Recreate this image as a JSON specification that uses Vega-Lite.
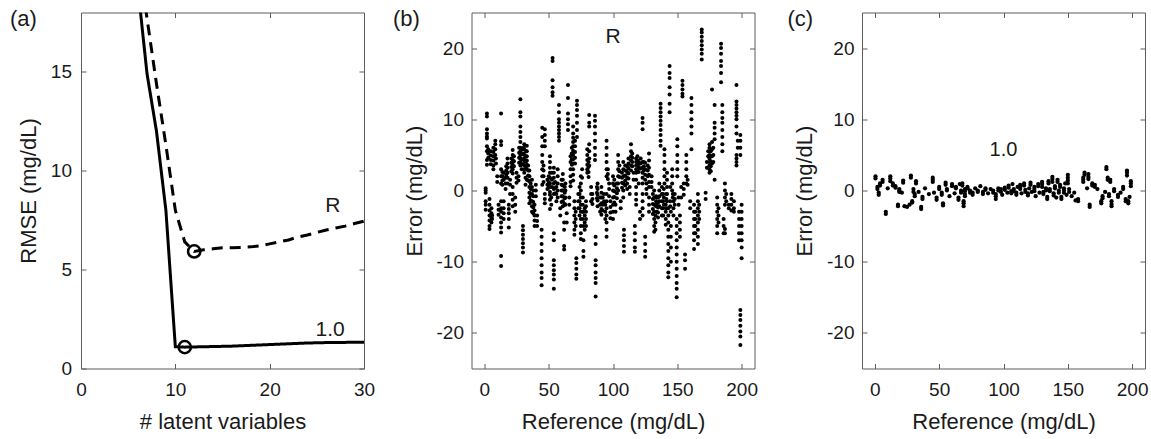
{
"$schema":"https://vega.github.io/schema/vega-lite/v6.json",
"padding":{"left":9,"top":7.5,"right":5,"bottom":5},
"bounds":"flush",
"spacing":107.5,
"config":{
 "font":"Liberation Sans",
 "view":{"stroke":"#5c5c5c","strokeWidth":1},
 "axis":{"grid":false,"domain":false,"labelFlush":false,"tickSize":-5,"tickColor":"#5c5c5c","tickWidth":1,"labelFontSize":19,"titleFontSize":22,"titleFontWeight":"normal","labelColor":"#1a1a1a","titleColor":"#1a1a1a","labelFont":"Liberation Sans","titleFont":"Liberation Sans","labelExpr":"toString(datum.value)"},
 "title":{"font":"Liberation Sans","fontSize":22,"fontWeight":"normal","color":"#1a1a1a","anchor":"start","frame":"group","offset":-13,"baseline":"alphabetic","dy":6}
},
"datasets":{
 "rmse":[
  {"lv":5,"rmse":24,"series":"1.0"},{"lv":6,"rmse":19.4,"series":"1.0"},{"lv":7,"rmse":14.9,"series":"1.0"},{"lv":8,"rmse":12.0,"series":"1.0"},{"lv":9,"rmse":8.0,"series":"1.0"},{"lv":10,"rmse":1.1,"series":"1.0"},{"lv":11,"rmse":1.08,"series":"1.0"},{"lv":12,"rmse":1.09,"series":"1.0"},{"lv":13,"rmse":1.1,"series":"1.0"},{"lv":14,"rmse":1.11,"series":"1.0"},{"lv":15,"rmse":1.12,"series":"1.0"},{"lv":16,"rmse":1.13,"series":"1.0"},{"lv":17,"rmse":1.15,"series":"1.0"},{"lv":18,"rmse":1.17,"series":"1.0"},{"lv":19,"rmse":1.19,"series":"1.0"},{"lv":20,"rmse":1.21,"series":"1.0"},{"lv":21,"rmse":1.23,"series":"1.0"},{"lv":22,"rmse":1.25,"series":"1.0"},{"lv":23,"rmse":1.27,"series":"1.0"},{"lv":24,"rmse":1.29,"series":"1.0"},{"lv":25,"rmse":1.3,"series":"1.0"},{"lv":26,"rmse":1.31,"series":"1.0"},{"lv":27,"rmse":1.32,"series":"1.0"},{"lv":28,"rmse":1.32,"series":"1.0"},{"lv":29,"rmse":1.33,"series":"1.0"},{"lv":30,"rmse":1.33,"series":"1.0"},
  {"lv":6,"rmse":21.0,"series":"R"},{"lv":7,"rmse":17.7,"series":"R"},{"lv":8,"rmse":14.4,"series":"R"},{"lv":9,"rmse":11.3,"series":"R"},{"lv":10,"rmse":8.0,"series":"R"},{"lv":11,"rmse":6.4,"series":"R"},{"lv":12,"rmse":5.92,"series":"R"},{"lv":13,"rmse":6.0,"series":"R"},{"lv":14,"rmse":6.05,"series":"R"},{"lv":15,"rmse":6.1,"series":"R"},{"lv":16,"rmse":6.1,"series":"R"},{"lv":17,"rmse":6.12,"series":"R"},{"lv":18,"rmse":6.15,"series":"R"},{"lv":19,"rmse":6.2,"series":"R"},{"lv":20,"rmse":6.3,"series":"R"},{"lv":21,"rmse":6.4,"series":"R"},{"lv":22,"rmse":6.5,"series":"R"},{"lv":23,"rmse":6.65,"series":"R"},{"lv":24,"rmse":6.75,"series":"R"},{"lv":25,"rmse":6.88,"series":"R"},{"lv":26,"rmse":7.0,"series":"R"},{"lv":27,"rmse":7.1,"series":"R"},{"lv":28,"rmse":7.2,"series":"R"},{"lv":29,"rmse":7.33,"series":"R"},{"lv":30,"rmse":7.45,"series":"R"}
 ],
 "opt":[{"lv":11,"rmse":1.08},{"lv":12,"rmse":5.92}],
 "labA":[{"lv":26.7,"rmse":8.2,"label":"R"},{"lv":26.4,"rmse":1.97,"label":"1.0"}],
 "labB":[{"ref":100,"err":21.6,"label":"R"}],
 "labC":[{"ref":100,"err":5.7,"label":"1.0"}],
 "errR":[
{"ref":1,"err":0.3},{"ref":1,"err":0},{"ref":1,"err":-0.3},{"ref":1,"err":-1.5},{"ref":1,"err":-2.0},{"ref":1,"err":-2.7},
{"ref":2,"err":10.8},{"ref":2,"err":10.4},{"ref":2,"err":8.6},{"ref":2,"err":8.0},{"ref":2,"err":7.6},{"ref":2,"err":7.3},{"ref":2,"err":6.2},{"ref":2,"err":5.5},{"ref":2,"err":4.3},{"ref":2,"err":3.6},
{"ref":3,"err":5.8},{"ref":3,"err":5.2},{"ref":3,"err":4.6},
{"ref":4,"err":-1.2},{"ref":4,"err":-2.0},{"ref":4,"err":-2.8},{"ref":4,"err":-3.5},{"ref":4,"err":-4.2},{"ref":4,"err":-5.0},{"ref":4,"err":-5.4},
{"ref":5,"err":5.5},{"ref":5,"err":4.9},{"ref":5,"err":4.3},{"ref":5,"err":3.7},
{"ref":5.5,"err":-2.5},{"ref":5.5,"err":-3.2},{"ref":5.5,"err":-3.8},{"ref":5.5,"err":-4.5},
{"ref":6,"err":-3.5},{"ref":6,"err":-4.0},
{"ref":7,"err":6.0},{"ref":7,"err":5.4},{"ref":7,"err":4.8},{"ref":7,"err":4.2},{"ref":7,"err":3.5},{"ref":7,"err":3.0},
{"ref":8.5,"err":7.0},{"ref":8.5,"err":6.5},{"ref":8.5,"err":5.8},{"ref":8.5,"err":5.0},
{"ref":9,"err":4.5},{"ref":9,"err":3.8},
{"ref":10,"err":2.0},{"ref":10,"err":1.2},
{"ref":11,"err":-2.0},{"ref":11,"err":-2.7},{"ref":11,"err":-3.4},
{"ref":13,"err":10.8},{"ref":13,"err":6.9},{"ref":13,"err":6.4},{"ref":13,"err":3.0},{"ref":13,"err":2.0},{"ref":13,"err":1.0},{"ref":13,"err":-1.5},{"ref":13,"err":-2.5},{"ref":13,"err":-3.0},{"ref":13,"err":-3.8},{"ref":13,"err":-4.5},{"ref":13,"err":-5.2},{"ref":13,"err":-5.9},{"ref":13,"err":-9.2},{"ref":13,"err":-10.6},
{"ref":14,"err":2.6},{"ref":14,"err":2.0},{"ref":14,"err":1.4},{"ref":14,"err":0.8},
{"ref":15,"err":2.5},{"ref":15,"err":1.5},{"ref":15,"err":-1.5},{"ref":15,"err":-2.5},{"ref":15,"err":-3.2},{"ref":15,"err":-4.0},
{"ref":16.5,"err":1.8},{"ref":16.5,"err":1.0},{"ref":16.5,"err":0.2},
{"ref":17,"err":3.4},{"ref":17,"err":2.8},{"ref":17,"err":2.2},
{"ref":18,"err":4.5},{"ref":18,"err":3.8},{"ref":18,"err":3.2},{"ref":18,"err":2.5},{"ref":18,"err":1.8},{"ref":18,"err":1.0},
{"ref":19,"err":-2.0},{"ref":19,"err":-2.6},{"ref":19,"err":-3.2},{"ref":19,"err":-4.0},{"ref":19,"err":-5.2},
{"ref":20,"err":1.5},{"ref":20,"err":0.8},{"ref":20,"err":-0.5},
{"ref":21,"err":4.5},{"ref":21,"err":3.9},{"ref":21,"err":3.3},{"ref":21,"err":2.7},
{"ref":22,"err":5.7},{"ref":22,"err":5.0},{"ref":22,"err":4.3},{"ref":22,"err":3.6},{"ref":22,"err":3.0},{"ref":22,"err":2.4},{"ref":22,"err":0.5},{"ref":22,"err":-0.5},{"ref":22,"err":-1.3},{"ref":22,"err":-2.2},
{"ref":23,"err":4.8},{"ref":23,"err":4.1},{"ref":23,"err":3.4},
{"ref":24,"err":-1.0},{"ref":24,"err":-2.0},{"ref":24,"err":-3.0},
{"ref":25,"err":2.5},{"ref":25,"err":1.8},{"ref":25,"err":1.1},
{"ref":26.5,"err":2.0},{"ref":26.5,"err":1.4},
{"ref":27,"err":6.0},{"ref":27,"err":5.3},{"ref":27,"err":4.6},{"ref":27,"err":3.9},
{"ref":28,"err":12.8},{"ref":28,"err":11.0},{"ref":28,"err":10.4},{"ref":28,"err":9.0},{"ref":28,"err":8.2},{"ref":28,"err":7.5},{"ref":28,"err":6.8},{"ref":28,"err":6.0},{"ref":28,"err":5.5},{"ref":28,"err":5.0},{"ref":28,"err":4.5},{"ref":28,"err":4.0},{"ref":28,"err":3.5},
{"ref":29,"err":5.8},{"ref":29,"err":5.1},{"ref":29,"err":4.4},{"ref":29,"err":3.7},{"ref":29,"err":3.0},
{"ref":30,"err":-5.0},{"ref":30,"err":-5.6},{"ref":30,"err":-6.2},{"ref":30,"err":-6.8},{"ref":30,"err":-7.4},{"ref":30,"err":-8.0},{"ref":30,"err":-8.7},
{"ref":30.5,"err":6.0},{"ref":30.5,"err":5.2},{"ref":30.5,"err":4.4},
{"ref":31,"err":6.5},{"ref":31,"err":5.8},{"ref":31,"err":5.0},{"ref":31,"err":4.5},{"ref":31,"err":4.0},{"ref":31,"err":3.5},{"ref":31,"err":3.0},{"ref":31,"err":2.5},
{"ref":32,"err":1.8},{"ref":32,"err":0.8},
{"ref":32.5,"err":5.5},{"ref":32.5,"err":4.8},{"ref":32.5,"err":4.1},{"ref":32.5,"err":3.4},
{"ref":33,"err":6.3},{"ref":33,"err":5.5},{"ref":33,"err":4.8},{"ref":33,"err":4.2},{"ref":33,"err":3.6},{"ref":33,"err":3.0},{"ref":33,"err":1.5},
{"ref":34,"err":3.5},{"ref":34,"err":2.8},{"ref":34,"err":2.1},{"ref":34,"err":1.4},
{"ref":35,"err":2.8},{"ref":35,"err":2.0},{"ref":35,"err":1.3},{"ref":35,"err":0.5},{"ref":35,"err":-0.3},{"ref":35,"err":-1.0},{"ref":35,"err":-1.8},
{"ref":36,"err":1.0},{"ref":36,"err":0.2},{"ref":36,"err":-0.6},{"ref":36,"err":-1.4},
{"ref":37,"err":1.5},{"ref":37,"err":0.5},{"ref":37,"err":-0.5},{"ref":37,"err":-1.5},{"ref":37,"err":-2.2},{"ref":37,"err":-3.0},
{"ref":38,"err":0},{"ref":38,"err":-0.8},{"ref":38,"err":-1.6},{"ref":38,"err":-2.4},{"ref":38,"err":-3.2},
{"ref":39,"err":-2.0},{"ref":39,"err":-2.8},{"ref":39,"err":-3.5},{"ref":39,"err":-4.2},{"ref":39,"err":-5.0},
{"ref":40,"err":0.8},{"ref":40,"err":0},{"ref":40,"err":-0.8},
{"ref":41,"err":-3.5},{"ref":41,"err":-4.3},{"ref":41,"err":-5.0},
{"ref":44.5,"err":-5.5},{"ref":44.5,"err":-6.5},{"ref":44.5,"err":-7.5},{"ref":44.5,"err":-8.5},{"ref":44.5,"err":-9.5},{"ref":44.5,"err":-10.5},{"ref":44.5,"err":-11.5},{"ref":44.5,"err":-12.3},{"ref":44.5,"err":-13.3},
{"ref":45,"err":8.8},{"ref":45,"err":7.5},{"ref":45,"err":6.2},{"ref":45,"err":5.0},{"ref":45,"err":4.0},{"ref":45,"err":3.0},{"ref":45,"err":2.0},{"ref":45,"err":0.8},
{"ref":46,"err":3.5},{"ref":46,"err":2.8},{"ref":46,"err":2.0},{"ref":46,"err":1.2},
{"ref":47,"err":8.6},{"ref":47,"err":7.8},{"ref":47,"err":7.0},{"ref":47,"err":6.2},{"ref":47,"err":-0.5},{"ref":47,"err":-1.2},{"ref":47,"err":-1.8},
{"ref":49,"err":1.5},{"ref":49,"err":0.8},{"ref":49,"err":0.2},
{"ref":50,"err":2.0},{"ref":50,"err":1.2},{"ref":50,"err":0.4},
{"ref":51,"err":4.8},{"ref":51,"err":4.0},{"ref":51,"err":3.2},{"ref":51,"err":2.5},{"ref":51,"err":1.8},{"ref":51,"err":1.0},{"ref":51,"err":0.5},{"ref":51,"err":-0.2},{"ref":51,"err":-0.6},{"ref":51,"err":-1.3},{"ref":51,"err":-2.6},
{"ref":52,"err":-1.0},{"ref":52,"err":-2.0},
{"ref":52.5,"err":2.5},{"ref":52.5,"err":1.5},{"ref":52.5,"err":0.5},
{"ref":53,"err":18.6},{"ref":53,"err":18.2},{"ref":53,"err":15.5},{"ref":53,"err":14.5},{"ref":53,"err":13.8},{"ref":53,"err":13.3},
{"ref":54,"err":3.2},{"ref":54,"err":2.5},{"ref":54,"err":1.8},{"ref":54,"err":1.0},{"ref":54,"err":0.2},{"ref":54,"err":-0.5},{"ref":54,"err":-6.0},{"ref":54,"err":-7.0},{"ref":54,"err":-9.8},{"ref":54,"err":-10.5},{"ref":54,"err":-11.2},{"ref":54,"err":-11.8},{"ref":54,"err":-12.5},{"ref":54,"err":-13.8},
{"ref":55,"err":1.2},{"ref":55,"err":0.4},{"ref":55,"err":-0.4},
{"ref":56,"err":0.5},{"ref":56,"err":-0.5},{"ref":56,"err":-1.5},
{"ref":57,"err":3.0},{"ref":57,"err":2.0},{"ref":57,"err":1.0},{"ref":57,"err":0},{"ref":57,"err":-1.0},
{"ref":58,"err":12.0},{"ref":58,"err":11.0},{"ref":58,"err":10.0},{"ref":58,"err":9.5},{"ref":58,"err":9.0},{"ref":58,"err":8.5},{"ref":58,"err":8.0},{"ref":58,"err":7.5},{"ref":58,"err":7.0},
{"ref":59,"err":-2.5},{"ref":59,"err":-3.5},
{"ref":60,"err":1.5},{"ref":60,"err":0.8},{"ref":60,"err":0},{"ref":60,"err":-0.8},{"ref":60,"err":-1.6},
{"ref":61,"err":2.3},{"ref":61,"err":1.5},{"ref":61,"err":0.7},{"ref":61,"err":0},{"ref":61,"err":-0.8},{"ref":61,"err":-1.5},{"ref":61,"err":-2.2},
{"ref":62,"err":-4.5},{"ref":62,"err":-5.5},{"ref":62,"err":-7.8},{"ref":62,"err":-8.3},
{"ref":62.5,"err":0.5},{"ref":62.5,"err":-0.3},{"ref":62.5,"err":-1.1},{"ref":62.5,"err":-1.9},
{"ref":63,"err":1.0},{"ref":63,"err":0},{"ref":63,"err":-1.0},{"ref":63,"err":-2.0},
{"ref":64,"err":-3.2},{"ref":64,"err":-4.5},
{"ref":65,"err":14.8},{"ref":65,"err":13.0},{"ref":65,"err":10.8},{"ref":65,"err":10.0},{"ref":65,"err":9.3},{"ref":65,"err":8.5},
{"ref":66,"err":-1.0},{"ref":66,"err":-2.0},
{"ref":67,"err":4.8},{"ref":67,"err":4.0},{"ref":67,"err":3.0},{"ref":67,"err":2.0},{"ref":67,"err":1.2},{"ref":67,"err":0.6},
{"ref":68,"err":6.0},{"ref":68,"err":5.2},{"ref":68,"err":4.4},{"ref":68,"err":3.6},
{"ref":69,"err":9.0},{"ref":69,"err":8.0},{"ref":69,"err":7.4},{"ref":69,"err":6.8},{"ref":69,"err":6.2},{"ref":69,"err":5.6},{"ref":69,"err":5.0},{"ref":69,"err":4.4},{"ref":69,"err":3.8},{"ref":69,"err":3.0},{"ref":69,"err":2.2},{"ref":69,"err":1.4},
{"ref":70,"err":-1.5},{"ref":70,"err":-2.5},{"ref":70,"err":-3.5},{"ref":70,"err":-4.5},{"ref":70,"err":-5.5},{"ref":70,"err":-6.2},
{"ref":70.5,"err":7.0},{"ref":70.5,"err":6.2},{"ref":70.5,"err":5.4},{"ref":70.5,"err":4.6},{"ref":70.5,"err":3.8},
{"ref":71,"err":-3.0},{"ref":71,"err":-4.0},{"ref":71,"err":-5.0},
{"ref":71.5,"err":-9.5},{"ref":71.5,"err":-10.2},{"ref":71.5,"err":-11.0},{"ref":71.5,"err":-11.8},{"ref":71.5,"err":-12.4},
{"ref":72,"err":12.6},{"ref":72,"err":12.0},{"ref":72,"err":11.3},{"ref":72,"err":10.5},{"ref":72,"err":9.5},{"ref":72,"err":8.5},{"ref":72,"err":7.5},
{"ref":73,"err":-0.5},{"ref":73,"err":-1.5},{"ref":73,"err":-2.5},
{"ref":74,"err":0.5},{"ref":74,"err":-0.5},{"ref":74,"err":-1.5},{"ref":74,"err":-2.5},{"ref":74,"err":-3.5},
{"ref":75,"err":2.0},{"ref":75,"err":1.0},{"ref":75,"err":0},{"ref":75,"err":-1.0},{"ref":75,"err":-2.0},{"ref":75,"err":-3.0},{"ref":75,"err":-4.0},{"ref":75,"err":-5.0},{"ref":75,"err":-6.0},{"ref":75,"err":-6.8},
{"ref":76,"err":3.0},{"ref":76,"err":1.8},
{"ref":76.5,"err":-1.0},{"ref":76.5,"err":-2.0},{"ref":76.5,"err":-3.0},{"ref":76.5,"err":-4.0},
{"ref":77,"err":-3.0},{"ref":77,"err":-5.0},{"ref":77,"err":-7.0},{"ref":77,"err":-8.5},{"ref":77,"err":-9.3},
{"ref":78,"err":-2.5},{"ref":78,"err":-3.5},{"ref":78,"err":-4.5},{"ref":78,"err":-5.5},
{"ref":79,"err":-1.5},{"ref":79,"err":-2.2},{"ref":79,"err":-3.0},{"ref":79,"err":-4.0},{"ref":79,"err":-5.0},
{"ref":80,"err":5.8},{"ref":80,"err":5.0},{"ref":80,"err":4.3},{"ref":80,"err":3.6},{"ref":80,"err":3.0},{"ref":80,"err":2.5},
{"ref":81,"err":4.0},{"ref":81,"err":3.3},{"ref":81,"err":2.6},{"ref":81,"err":1.9},
{"ref":81.5,"err":10.6},{"ref":81.5,"err":9.5},{"ref":81.5,"err":9.0},{"ref":81.5,"err":6.5},{"ref":81.5,"err":5.5},{"ref":81.5,"err":4.5},{"ref":81.5,"err":3.5},
{"ref":83,"err":0.5},{"ref":83,"err":-0.5},{"ref":83,"err":-1.5},
{"ref":84,"err":-0.5},{"ref":84,"err":-1.2},{"ref":84,"err":-1.9},
{"ref":86,"err":10.5},{"ref":86,"err":9.8},{"ref":86,"err":9.0},{"ref":86,"err":8.0},{"ref":86,"err":7.0},{"ref":86,"err":6.0},{"ref":86,"err":5.0},{"ref":86,"err":4.3},
{"ref":86.5,"err":-6.5},{"ref":86.5,"err":-7.5},{"ref":86.5,"err":-9.8},{"ref":86.5,"err":-10.5},{"ref":86.5,"err":-11.5},{"ref":86.5,"err":-12.3},{"ref":86.5,"err":-13.0},{"ref":86.5,"err":-14.9},
{"ref":87.5,"err":0.5},{"ref":87.5,"err":-0.3},{"ref":87.5,"err":-1.1},
{"ref":88,"err":1.0},{"ref":88,"err":0.2},{"ref":88,"err":-0.6},{"ref":88,"err":-1.4},{"ref":88,"err":-2.2},
{"ref":90,"err":-1.0},{"ref":90,"err":-2.0},{"ref":90,"err":-3.0},
{"ref":91,"err":0.5},{"ref":91,"err":-0.3},{"ref":91,"err":-1.0},{"ref":91,"err":-1.8},{"ref":91,"err":-2.6},{"ref":91,"err":-3.4},
{"ref":92,"err":-1.0},{"ref":92,"err":-2.0},{"ref":92,"err":-2.8},
{"ref":93,"err":-0.5},{"ref":93,"err":-1.5},
{"ref":94,"err":-2.0},{"ref":94,"err":-3.0},{"ref":94,"err":-4.0},
{"ref":95,"err":7.0},{"ref":95,"err":6.0},{"ref":95,"err":5.0},{"ref":95,"err":4.0},{"ref":95,"err":3.0},{"ref":95,"err":2.0},{"ref":95,"err":-0.5},{"ref":95,"err":-1.5},{"ref":95,"err":-2.5},{"ref":95,"err":-3.5},{"ref":95,"err":-4.5},{"ref":95,"err":-5.5},{"ref":95,"err":-6.5},
{"ref":96,"err":3.0},{"ref":96,"err":2.3},{"ref":96,"err":1.6},
{"ref":97,"err":1.0},{"ref":97,"err":0.2},{"ref":97,"err":-0.8},
{"ref":98,"err":-1.5},{"ref":98,"err":-2.3},{"ref":98,"err":-3.1},{"ref":98,"err":-3.9},
{"ref":100,"err":2.0},{"ref":100,"err":1.0},{"ref":100,"err":0},{"ref":100,"err":-1.0},{"ref":100,"err":-2.0},{"ref":100,"err":-3.0},{"ref":100,"err":-4.0},
{"ref":101,"err":1.5},{"ref":101,"err":0.7},{"ref":101,"err":-0.1},{"ref":101,"err":-0.9},{"ref":101,"err":-1.7},
{"ref":102,"err":-2.0},{"ref":102,"err":-3.0},
{"ref":103,"err":1.0},{"ref":103,"err":0.3},{"ref":103,"err":-0.4},{"ref":103,"err":-1.1},
{"ref":104,"err":5.0},{"ref":104,"err":4.0},{"ref":104,"err":3.0},{"ref":104,"err":2.0},{"ref":104,"err":1.0},{"ref":104,"err":0},
{"ref":105,"err":3.5},{"ref":105,"err":2.7},{"ref":105,"err":1.9},
{"ref":106,"err":-1.5},{"ref":106,"err":-2.5},
{"ref":107,"err":2.5},{"ref":107,"err":1.8},{"ref":107,"err":1.1},{"ref":107,"err":0.4},
{"ref":108,"err":4.0},{"ref":108,"err":3.0},{"ref":108,"err":2.0},{"ref":108,"err":1.0},{"ref":108,"err":0},{"ref":108,"err":-1.0},
{"ref":108.5,"err":-5.5},{"ref":108.5,"err":-6.3},{"ref":108.5,"err":-7.0},{"ref":108.5,"err":-7.8},{"ref":108.5,"err":-8.6},
{"ref":109.5,"err":3.5},{"ref":109.5,"err":2.8},{"ref":109.5,"err":2.1},{"ref":109.5,"err":1.4},{"ref":109.5,"err":0.7},
{"ref":111,"err":3.4},{"ref":111,"err":2.6},{"ref":111,"err":1.8},{"ref":111,"err":1.0},{"ref":111,"err":0.2},
{"ref":112,"err":4.5},{"ref":112,"err":3.8},{"ref":112,"err":3.1},{"ref":112,"err":2.4},{"ref":112,"err":1.7},
{"ref":113,"err":0.5},{"ref":113,"err":-0.5},
{"ref":114,"err":6.5},{"ref":114,"err":5.5},{"ref":114,"err":4.8},{"ref":114,"err":4.2},{"ref":114,"err":3.5},{"ref":114,"err":2.8},
{"ref":115,"err":5.2},{"ref":115,"err":4.6},{"ref":115,"err":4.0},{"ref":115,"err":3.4},
{"ref":116,"err":2.5},{"ref":116,"err":1.5},
{"ref":117,"err":-5.0},{"ref":117,"err":-6.0},{"ref":117,"err":-7.0},{"ref":117,"err":-8.0},{"ref":117,"err":-8.6},
{"ref":118,"err":4.5},{"ref":118,"err":4.0},{"ref":118,"err":3.5},{"ref":118,"err":3.0},{"ref":118,"err":2.5},{"ref":118,"err":1.5},{"ref":118,"err":0.5},{"ref":118,"err":-0.5},{"ref":118,"err":-1.3},{"ref":118,"err":-2.0},
{"ref":119,"err":4.8},{"ref":119,"err":4.2},{"ref":119,"err":3.6},{"ref":119,"err":3.0},
{"ref":120,"err":4.0},{"ref":120,"err":3.3},{"ref":120,"err":2.6},{"ref":120,"err":1.0},
{"ref":121,"err":-3.0},{"ref":121,"err":-4.0},
{"ref":121.5,"err":4.5},{"ref":121.5,"err":3.8},{"ref":121.5,"err":3.1},
{"ref":123,"err":10.2},{"ref":123,"err":9.5},{"ref":123,"err":8.6},{"ref":123,"err":4.0},{"ref":123,"err":3.2},{"ref":123,"err":2.5},{"ref":123,"err":1.8},{"ref":123,"err":1.0},{"ref":123,"err":-0.5},{"ref":123,"err":-1.5},{"ref":123,"err":-2.5},{"ref":123,"err":-3.5},
{"ref":124,"err":4.0},{"ref":124,"err":3.4},{"ref":124,"err":2.8},
{"ref":125,"err":3.9},{"ref":125,"err":3.0},{"ref":125,"err":2.2},{"ref":125,"err":1.5},{"ref":125,"err":-6.5},{"ref":125,"err":-7.5},{"ref":125,"err":-8.5},{"ref":125,"err":-9.3},
{"ref":126,"err":1.0},{"ref":126,"err":0.2},{"ref":126,"err":-0.5},
{"ref":127,"err":3.5},{"ref":127,"err":2.8},{"ref":127,"err":2.0},
{"ref":128,"err":5.2},{"ref":128,"err":4.2},{"ref":128,"err":3.2},{"ref":128,"err":2.2},{"ref":128,"err":1.2},{"ref":128,"err":0.5},{"ref":128,"err":-1.0},{"ref":128,"err":-2.0},{"ref":128,"err":-3.0},
{"ref":130,"err":2.0},{"ref":130,"err":1.2},{"ref":130,"err":0.5},
{"ref":131,"err":-0.5},{"ref":131,"err":-1.2},{"ref":131,"err":-1.9},{"ref":131,"err":-2.6},{"ref":131,"err":-3.3},
{"ref":132,"err":0},{"ref":132,"err":-1.0},{"ref":132,"err":-2.0},{"ref":132,"err":-3.0},{"ref":132,"err":-4.0},{"ref":132,"err":-5.0},{"ref":132,"err":-5.8},
{"ref":133,"err":-3.5},{"ref":133,"err":-4.5},{"ref":133,"err":-5.5},
{"ref":133.5,"err":-0.8},{"ref":133.5,"err":-1.5},{"ref":133.5,"err":-2.2},
{"ref":134,"err":-1.0},{"ref":134,"err":-2.0},{"ref":134,"err":-3.0},
{"ref":135,"err":-1.0},{"ref":135,"err":-1.7},{"ref":135,"err":-2.4},{"ref":135,"err":-3.1},{"ref":135,"err":-3.8},
{"ref":136,"err":1.0},{"ref":136,"err":0},{"ref":136,"err":-0.8},{"ref":136,"err":-1.5},{"ref":136,"err":-2.2},
{"ref":137,"err":12.2},{"ref":137,"err":11.6},{"ref":137,"err":11.0},{"ref":137,"err":10.4},{"ref":137,"err":9.8},{"ref":137,"err":9.2},{"ref":137,"err":8.5},{"ref":137,"err":7.8},{"ref":137,"err":7.0},{"ref":137,"err":6.3},
{"ref":138,"err":0.5},{"ref":138,"err":-0.5},{"ref":138,"err":-1.5},{"ref":138,"err":-2.5},{"ref":138,"err":-3.5},
{"ref":139,"err":-0.5},{"ref":139,"err":-1.5},{"ref":139,"err":-2.5},{"ref":139,"err":-3.5},
{"ref":139.5,"err":0.2},{"ref":139.5,"err":-1.0},{"ref":139.5,"err":-2.0},
{"ref":140,"err":5.8},{"ref":140,"err":5.0},{"ref":140,"err":4.0},{"ref":140,"err":3.0},{"ref":140,"err":2.0},{"ref":140,"err":1.0},
{"ref":141,"err":-2.0},{"ref":141,"err":-3.0},{"ref":141,"err":-4.0},{"ref":141,"err":-4.8},
{"ref":141.5,"err":-0.5},{"ref":141.5,"err":-1.2},{"ref":141.5,"err":-2.5},
{"ref":142,"err":2.5},{"ref":142,"err":1.5},{"ref":142,"err":0.5},{"ref":142,"err":-0.5},{"ref":142,"err":-1.5},
{"ref":143,"err":-2.5},{"ref":143,"err":-3.5},{"ref":143,"err":-4.5},{"ref":143,"err":-5.5},{"ref":143,"err":-6.5},{"ref":143,"err":-7.5},{"ref":143,"err":-8.5},{"ref":143,"err":-9.5},{"ref":143,"err":-10.5},{"ref":143,"err":-11.5},{"ref":143,"err":-12.2},
{"ref":144,"err":17.5},{"ref":144,"err":16.5},{"ref":144,"err":15.8},{"ref":144,"err":14.5},{"ref":144,"err":13.5},{"ref":144,"err":12.2},{"ref":144,"err":11.0},
{"ref":144.5,"err":-1.5},{"ref":144.5,"err":-2.2},{"ref":144.5,"err":0.5},
{"ref":145,"err":-3.0},{"ref":145,"err":-5.0},{"ref":145,"err":-6.5},{"ref":145,"err":-8.0},{"ref":145,"err":-10.0},
{"ref":146,"err":3.0},{"ref":146,"err":2.0},{"ref":146,"err":1.0},{"ref":146,"err":0},
{"ref":146.5,"err":-0.5},{"ref":146.5,"err":-1.0},
{"ref":147,"err":-1.5},{"ref":147,"err":-2.5},{"ref":147,"err":-3.5},
{"ref":148,"err":-0.5},{"ref":148,"err":-1.2},{"ref":148,"err":-2.0},
{"ref":149.5,"err":-4.0},{"ref":149.5,"err":-5.0},{"ref":149.5,"err":-6.0},{"ref":149.5,"err":-7.0},{"ref":149.5,"err":-8.0},{"ref":149.5,"err":-9.0},{"ref":149.5,"err":-10.0},{"ref":149.5,"err":-11.0},{"ref":149.5,"err":-12.0},{"ref":149.5,"err":-13.0},{"ref":149.5,"err":-13.8},{"ref":149.5,"err":-15.0},
{"ref":150,"err":7.2},{"ref":150,"err":6.2},{"ref":150,"err":5.0},{"ref":150,"err":4.0},{"ref":150,"err":3.0},{"ref":150,"err":2.0},
{"ref":151,"err":-1.0},{"ref":151,"err":-2.0},
{"ref":152,"err":-3.5},{"ref":152,"err":-4.5},{"ref":152,"err":-5.5},{"ref":152,"err":-6.5},
{"ref":153,"err":0.5},{"ref":153,"err":-1.0},
{"ref":154,"err":15.4},{"ref":154,"err":14.8},{"ref":154,"err":14.2},{"ref":154,"err":13.6},{"ref":154,"err":13.2},
{"ref":155,"err":1.0},{"ref":155,"err":0.2},{"ref":155,"err":-0.6},
{"ref":156,"err":-9.0},{"ref":156,"err":-9.8},{"ref":156,"err":-11.0},
{"ref":157,"err":5.0},{"ref":157,"err":4.0},{"ref":157,"err":3.0},{"ref":157,"err":2.0},{"ref":157,"err":1.0},
{"ref":158,"err":1.5},{"ref":158,"err":0.8},
{"ref":160,"err":-1.5},{"ref":160,"err":-2.5},
{"ref":161,"err":13.0},{"ref":161,"err":12.0},{"ref":161,"err":11.0},{"ref":161,"err":10.0},{"ref":161,"err":9.0},{"ref":161,"err":8.0},{"ref":161,"err":5.8},
{"ref":163,"err":-2.0},{"ref":163,"err":-3.0},{"ref":163,"err":-4.0},{"ref":163,"err":-5.0},{"ref":163,"err":-6.0},{"ref":163,"err":-7.0},{"ref":163,"err":-8.2},
{"ref":164,"err":-3.0},{"ref":164,"err":-4.0},{"ref":164,"err":-5.0},{"ref":164,"err":-6.0},
{"ref":166,"err":-0.5},{"ref":166,"err":-1.5},{"ref":166,"err":-2.5},{"ref":166,"err":-3.5},{"ref":166,"err":-4.5},{"ref":166,"err":-5.5},{"ref":166,"err":-6.5},{"ref":166,"err":-7.5},
{"ref":167,"err":-2.0},{"ref":167,"err":-3.0},{"ref":167,"err":-4.0},
{"ref":169,"err":22.6},{"ref":169,"err":22.2},{"ref":169,"err":21.6},{"ref":169,"err":21.0},{"ref":169,"err":20.4},{"ref":169,"err":19.8},{"ref":169,"err":19.2},{"ref":169,"err":18.4},
{"ref":172,"err":-0.3},{"ref":172,"err":-1.2},
{"ref":173,"err":4.0},{"ref":173,"err":3.2},
{"ref":174,"err":5.5},{"ref":174,"err":4.8},
{"ref":175,"err":6.5},{"ref":175,"err":6.0},{"ref":175,"err":5.5},{"ref":175,"err":5.0},{"ref":175,"err":4.5},{"ref":175,"err":4.0},{"ref":175,"err":3.5},{"ref":175,"err":3.0},{"ref":175,"err":2.5},
{"ref":176,"err":5.5},{"ref":176,"err":4.8},{"ref":176,"err":4.1},{"ref":176,"err":3.4},{"ref":176,"err":2.7},
{"ref":177,"err":14.2},{"ref":177,"err":6.8},{"ref":177,"err":5.8},{"ref":177,"err":4.8},{"ref":177,"err":3.8},
{"ref":178,"err":6.0},{"ref":178,"err":5.0},{"ref":178,"err":4.0},
{"ref":179,"err":12.0},{"ref":179,"err":9.5},{"ref":179,"err":8.8},{"ref":179,"err":8.0},{"ref":179,"err":7.2},{"ref":179,"err":1.5},
{"ref":181,"err":-1.0},{"ref":181,"err":-2.0},{"ref":181,"err":-3.0},{"ref":181,"err":-4.0},{"ref":181,"err":-5.0},{"ref":181,"err":-6.0},
{"ref":182,"err":-2.5},{"ref":182,"err":-3.5},{"ref":182,"err":-4.5},
{"ref":184,"err":20.6},{"ref":184,"err":20.0},{"ref":184,"err":19.2},{"ref":184,"err":18.2},{"ref":184,"err":17.5},{"ref":184,"err":16.5},{"ref":184,"err":15.2},
{"ref":185,"err":12.0},{"ref":185,"err":11.0},{"ref":185,"err":10.2},{"ref":185,"err":9.5},{"ref":185,"err":8.5},{"ref":185,"err":7.5},{"ref":185,"err":6.5},{"ref":185,"err":5.5},
{"ref":186,"err":-4.0},{"ref":186,"err":-5.0},{"ref":186,"err":-6.0},
{"ref":187,"err":1.0},{"ref":187,"err":0},{"ref":187,"err":-1.0},{"ref":187,"err":-2.0},{"ref":187,"err":-5.4},{"ref":187,"err":-6.0},
{"ref":188,"err":-0.5},{"ref":188,"err":-1.5},
{"ref":190,"err":-2.0},{"ref":190,"err":-2.5},
{"ref":192,"err":-0.5},{"ref":192,"err":-1.2},{"ref":192,"err":-2.0},{"ref":192,"err":-2.8},
{"ref":194,"err":-1.5},{"ref":194,"err":-2.5},{"ref":194,"err":-3.0},
{"ref":196,"err":14.8},{"ref":196,"err":12.5},{"ref":196,"err":12.0},{"ref":196,"err":11.5},{"ref":196,"err":11.0},{"ref":196,"err":10.5},{"ref":196,"err":10.0},{"ref":196,"err":9.0},{"ref":196,"err":8.0},{"ref":196,"err":5.0},{"ref":196,"err":4.5},{"ref":196,"err":4.0},{"ref":196,"err":3.5},
{"ref":197,"err":6.0},{"ref":197,"err":7.0},
{"ref":198,"err":-3.0},{"ref":198,"err":-4.0},{"ref":198,"err":-5.0},{"ref":198,"err":-6.0},{"ref":198,"err":-7.0},
{"ref":199,"err":7.8},{"ref":199,"err":7.0},{"ref":199,"err":6.0},{"ref":199,"err":5.0},{"ref":199,"err":-16.8},{"ref":199,"err":-17.5},{"ref":199,"err":-18.2},{"ref":199,"err":-19.0},{"ref":199,"err":-19.8},{"ref":199,"err":-20.5},{"ref":199,"err":-21.7},
{"ref":200,"err":-2.0},{"ref":200,"err":-3.0},{"ref":200,"err":-4.0},{"ref":200,"err":-5.0},{"ref":200,"err":-6.0},{"ref":200,"err":-7.0},{"ref":200,"err":-8.0},{"ref":200,"err":-9.5}
 ],
 "err10":[
{"ref":0.5,"err":2.0},{"ref":0.5,"err":1.7},{"ref":2,"err":0.5},{"ref":2,"err":0.2},{"ref":3,"err":-0.3},{"ref":3,"err":-0.6},{"ref":4,"err":1.0},{"ref":4,"err":0.7},{"ref":6,"err":1.5},{"ref":6,"err":1.2},{"ref":8.5,"err":-3.0},{"ref":8.5,"err":-3.3},{"ref":10,"err":0.3},
{"ref":12,"err":2.0},{"ref":12,"err":1.7},{"ref":12,"err":1.3},{"ref":14,"err":1.0},{"ref":14,"err":0.7},{"ref":16,"err":0.6},{"ref":16,"err":0.4},{"ref":18,"err":-2.0},{"ref":18,"err":-2.2},{"ref":19,"err":0.2},{"ref":19,"err":-0.2},{"ref":19,"err":0},{"ref":21,"err":-0.3},
{"ref":22,"err":1.4},{"ref":22,"err":1.1},{"ref":23,"err":-2.2},{"ref":25,"err":-2.3},{"ref":27,"err":-2.0},{"ref":28,"err":2.1},{"ref":28,"err":1.8},{"ref":29,"err":-1.7},{"ref":29,"err":-1.5},{"ref":30,"err":0.2},{"ref":30,"err":-0.2},{"ref":31,"err":-0.8},{"ref":31,"err":-0.5},
{"ref":32,"err":1.3},{"ref":32,"err":1.0},{"ref":34,"err":-0.2},{"ref":36,"err":-2.3},{"ref":36,"err":-2.6},{"ref":37,"err":-1.2},{"ref":37,"err":-0.9},{"ref":39,"err":0.3},{"ref":42,"err":-0.5},{"ref":45,"err":1.8},{"ref":45,"err":1.5},{"ref":45,"err":1.2},{"ref":46,"err":-0.3},
{"ref":48,"err":-1.0},{"ref":48,"err":-1.3},{"ref":50,"err":0.5},{"ref":50,"err":0.2},{"ref":52,"err":-0.3},{"ref":52,"err":-0.6},{"ref":53,"err":-1.8},{"ref":53,"err":-2.1},{"ref":55,"err":1.1},{"ref":55,"err":0.8},{"ref":56,"err":0.2},{"ref":56,"err":0},{"ref":58,"err":-0.8},
{"ref":60,"err":0.9},{"ref":60,"err":0.6},{"ref":62,"err":-0.4},{"ref":63,"err":0.5},{"ref":63,"err":0.3},{"ref":65,"err":-1.0},{"ref":65,"err":-1.3},{"ref":66,"err":0.9},{"ref":67,"err":-0.3},{"ref":67,"err":0},{"ref":68,"err":1.0},{"ref":68,"err":0.7},
{"ref":69,"err":-1.5},{"ref":69,"err":-1.8},{"ref":69,"err":-2.2},{"ref":70,"err":0.2},{"ref":70,"err":-0.1},{"ref":70,"err":-0.5},{"ref":70,"err":-0.8},{"ref":72,"err":0.5},{"ref":72,"err":0.3},{"ref":74,"err":0},{"ref":74,"err":-0.3},{"ref":76,"err":-0.6},{"ref":76,"err":-0.3},
{"ref":78,"err":0.3},{"ref":80,"err":-0.2},{"ref":80,"err":0},{"ref":82,"err":0.6},{"ref":84,"err":-0.5},{"ref":84,"err":-0.2},{"ref":86,"err":0.3},{"ref":86,"err":0.1},{"ref":88,"err":-0.4},{"ref":90,"err":0.2},{"ref":92,"err":0},{"ref":92,"err":-0.3},
{"ref":94,"err":-0.5},{"ref":94,"err":-0.8},{"ref":94,"err":-1.2},{"ref":96,"err":0.3},{"ref":96,"err":0},{"ref":98,"err":0.2},{"ref":98,"err":-0.2},{"ref":99,"err":-0.6},{"ref":101,"err":0.4},{"ref":101,"err":0.1},{"ref":103,"err":-0.3},{"ref":104,"err":0.7},{"ref":104,"err":0.4},
{"ref":106,"err":-0.1},{"ref":106,"err":-0.4},{"ref":107,"err":0.9},{"ref":108,"err":0.2},{"ref":108,"err":-0.1},{"ref":110,"err":-0.6},{"ref":110,"err":-0.3},{"ref":111,"err":0.5},{"ref":113,"err":0.8},{"ref":113,"err":0.5},{"ref":113,"err":0.2},{"ref":114,"err":-0.4},
{"ref":116,"err":1.0},{"ref":116,"err":0.7},{"ref":117,"err":-0.2},{"ref":117,"err":0.1},{"ref":119,"err":-0.7},{"ref":119,"err":-0.4},{"ref":120,"err":0.3},{"ref":121,"err":1.1},{"ref":121,"err":0.8},{"ref":122,"err":-0.2},{"ref":124,"err":0.5},{"ref":124,"err":0.2},{"ref":124,"err":-0.1},
{"ref":125,"err":-0.8},{"ref":127,"err":0.9},{"ref":127,"err":0.6},{"ref":128,"err":-0.3},{"ref":130,"err":1.2},{"ref":130,"err":0.9},{"ref":130,"err":0.5},{"ref":131,"err":-0.5},{"ref":131,"err":-0.2},{"ref":133,"err":0.3},{"ref":133,"err":0},{"ref":134,"err":-0.9},{"ref":134,"err":-1.2},
{"ref":135,"err":1.3},{"ref":135,"err":1.0},{"ref":136,"err":0.2},{"ref":136,"err":-0.1},{"ref":138,"err":1.9},{"ref":138,"err":1.6},{"ref":138,"err":1.2},{"ref":139,"err":-0.4},{"ref":139,"err":-0.7},{"ref":140,"err":0.6},{"ref":140,"err":0.3},{"ref":141,"err":-1.0},
{"ref":142,"err":1.5},{"ref":142,"err":1.2},{"ref":143,"err":-0.3},{"ref":143,"err":0},{"ref":144,"err":0.8},{"ref":144,"err":0.5},{"ref":145,"err":-1.2},{"ref":145,"err":-0.9},{"ref":147,"err":0.3},{"ref":147,"err":0},{"ref":147,"err":-0.3},{"ref":148,"err":1.0},{"ref":149,"err":-0.6},
{"ref":150,"err":2.2},{"ref":150,"err":1.8},{"ref":150,"err":1.4},{"ref":150,"err":1.0},{"ref":151,"err":0.2},{"ref":151,"err":-0.2},{"ref":153,"err":-0.8},{"ref":155,"err":-0.3},{"ref":156,"err":-1.4},{"ref":158,"err":-1.5},{"ref":158,"err":-1.2},
{"ref":162,"err":1.8},{"ref":162,"err":1.5},{"ref":162,"err":1.2},{"ref":163,"err":2.5},{"ref":163,"err":2.2},{"ref":165,"err":0.3},{"ref":166,"err":2.3},{"ref":166,"err":1.9},{"ref":166,"err":1.6},{"ref":167,"err":-2.0},{"ref":167,"err":-2.3},
{"ref":169,"err":1.0},{"ref":169,"err":0.7},{"ref":171,"err":0.8},{"ref":171,"err":0.5},{"ref":173,"err":0.2},{"ref":176,"err":-1.5},{"ref":176,"err":-1.8},{"ref":177,"err":-0.8},{"ref":177,"err":-1.1},{"ref":179,"err":-0.2},
{"ref":180,"err":3.3},{"ref":180,"err":3.0},{"ref":181,"err":1.8},{"ref":181,"err":1.5},{"ref":182,"err":-0.5},{"ref":182,"err":-0.8},{"ref":183,"err":1.5},{"ref":183,"err":1.2},{"ref":184,"err":-1.5},{"ref":184,"err":-1.9},{"ref":184,"err":-2.2},
{"ref":186,"err":0.2},{"ref":186,"err":-0.1},{"ref":189,"err":-0.6},{"ref":189,"err":-0.9},{"ref":191,"err":-0.3},{"ref":193,"err":0.5},{"ref":193,"err":0.2},{"ref":195,"err":-1.2},{"ref":195,"err":-1.5},
{"ref":196,"err":2.8},{"ref":196,"err":2.5},{"ref":196,"err":2.1},{"ref":197,"err":-1.5},{"ref":197,"err":-1.8},{"ref":198,"err":-0.9},{"ref":199,"err":1.3},{"ref":199,"err":1.0},{"ref":199,"err":0.6}
 ]
},
"hconcat":[
 {
  "width":283,"height":356,
  "title":{"text":"(a)","dx":-71},
  "layer":[
   {"data":{"name":"rmse"},
    "mark":{"type":"line","clip":true,"strokeWidth":3,"color":"#000000"},
    "encoding":{
     "x":{"field":"lv","type":"quantitative","scale":{"domain":[0,30],"nice":false},"axis":{"orient":"bottom","values":[0,10,20,30],"title":"# latent variables","labelPadding":17,"titlePadding":12}},
     "y":{"field":"rmse","type":"quantitative","scale":{"domain":[0,18],"nice":false},"axis":{"orient":"left","values":[0,5,10,15],"title":"RMSE (mg/dL)","labelPadding":14.5,"titlePadding":10}},
     "strokeDash":{"field":"series","type":"nominal","scale":{"domain":["1.0","R"],"range":[[1,0],[11,7]]},"legend":null}
    }},
   {"data":{"name":"opt"},
    "mark":{"type":"point","shape":"circle","filled":false,"size":150,"strokeWidth":2.5,"color":"#000000","opacity":1},
    "encoding":{
     "x":{"field":"lv","type":"quantitative","axis":{"orient":"top","values":[0,10,20,30],"labels":false,"title":null}},
     "y":{"field":"rmse","type":"quantitative","axis":{"orient":"right","values":[0,5,10,15],"labels":false,"title":null}}
    }},
   {"data":{"name":"labA"},
    "mark":{"type":"text","fontSize":21,"font":"Liberation Sans","color":"#1a1a1a","align":"center","baseline":"middle"},
    "encoding":{
     "x":{"field":"lv","type":"quantitative","axis":null},
     "y":{"field":"rmse","type":"quantitative","axis":null},
     "text":{"field":"label"}
    }}
  ]
 },
 {
  "width":283,"height":356,
  "title":{"text":"(b)","dx":-78.5},
  "layer":[
   {"data":{"name":"errR"},
    "mark":{"type":"circle","size":16,"color":"#000000","opacity":1},
    "encoding":{
     "x":{"field":"ref","type":"quantitative","scale":{"domain":[-10,210],"nice":false},"axis":{"orient":"bottom","values":[0,50,100,150,200],"title":"Reference (mg/dL)","labelPadding":17,"titlePadding":12}},
     "y":{"field":"err","type":"quantitative","scale":{"domain":[-25,25],"nice":false},"axis":{"orient":"left","values":[-20,-10,0,10,20],"title":"Error (mg/dL)","labelPadding":13,"titlePadding":10}}
    }},
   {"data":{"name":"labB"},
    "mark":{"type":"text","fontSize":21,"font":"Liberation Sans","color":"#1a1a1a","align":"center","baseline":"middle"},
    "encoding":{
     "x":{"field":"ref","type":"quantitative","axis":{"orient":"top","values":[0,50,100,150,200],"labels":false,"title":null}},
     "y":{"field":"err","type":"quantitative","axis":{"orient":"right","values":[-20,-10,0,10,20],"labels":false,"title":null}},
     "text":{"field":"label"}
    }}
  ]
 },
 {
  "width":283,"height":356,
  "title":{"text":"(c)","dx":-74.5},
  "layer":[
   {"data":{"name":"err10"},
    "mark":{"type":"circle","size":18,"color":"#000000","opacity":1},
    "encoding":{
     "x":{"field":"ref","type":"quantitative","scale":{"domain":[-10,210],"nice":false},"axis":{"orient":"bottom","values":[0,50,100,150,200],"title":"Reference (mg/dL)","labelPadding":17,"titlePadding":12}},
     "y":{"field":"err","type":"quantitative","scale":{"domain":[-25,25],"nice":false},"axis":{"orient":"left","values":[-20,-10,0,10,20],"title":"Error (mg/dL)","labelPadding":13,"titlePadding":10}}
    }},
   {"data":{"name":"labC"},
    "mark":{"type":"text","fontSize":20,"font":"Liberation Sans","color":"#1a1a1a","align":"center","baseline":"middle"},
    "encoding":{
     "x":{"field":"ref","type":"quantitative","axis":{"orient":"top","values":[0,50,100,150,200],"labels":false,"title":null}},
     "y":{"field":"err","type":"quantitative","axis":{"orient":"right","values":[-20,-10,0,10,20],"labels":false,"title":null}},
     "text":{"field":"label"}
    }}
  ]
 }
]
}
